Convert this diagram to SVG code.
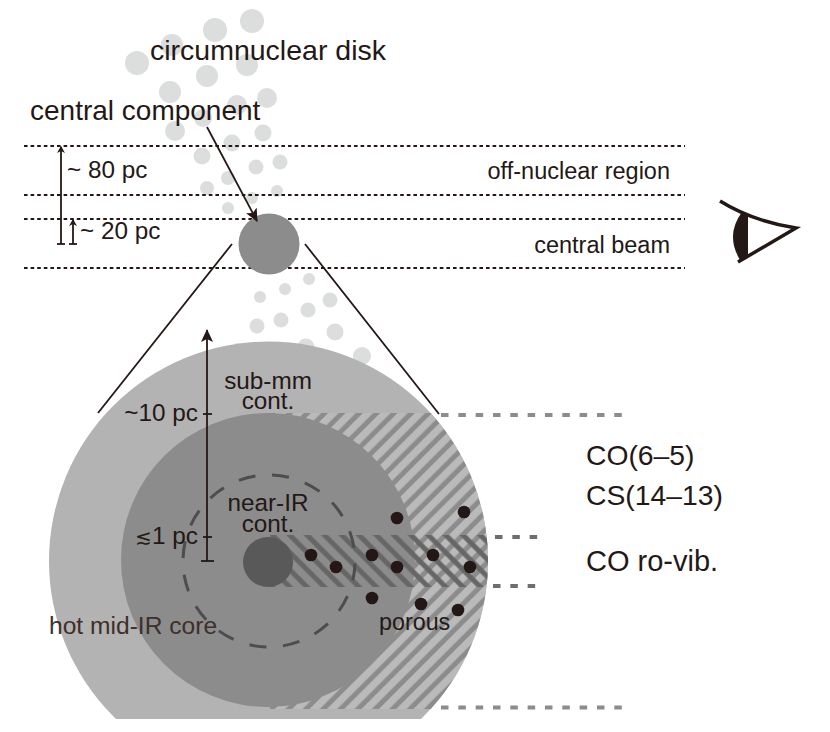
<svg xmlns="http://www.w3.org/2000/svg" width="830" height="732" viewBox="0 0 830 732">
<style>
text{font-family:"Liberation Sans",Arial,sans-serif;fill:#231815}
.s{font-size:24.3px}.o{font-size:23.5px}.m{font-size:28.3px}.c{text-anchor:middle}.e{text-anchor:end}
.blob{fill:#dcdddd}
.dot{fill:none;stroke:#231815;stroke-width:1.8;stroke-dasharray:3.6 3}
.ln{fill:none;stroke:#231815;stroke-width:1.8}
.gd{fill:none;stroke:#8c8c8c;stroke-width:4;stroke-dasharray:7.500 9.830}
.gb{fill:none;stroke:#6e6e6e;stroke-width:4;stroke-dasharray:7.500 9.830}
.p{fill:#231815}
</style>
<defs>
<pattern id="h1" width="12.254" height="12.254" patternUnits="userSpaceOnUse" patternTransform="rotate(45)"><rect width="12.254" height="12.254" fill="#bababa"/><rect x="4.47" width="5" height="12.254" fill="#8c8c8c"/></pattern>
<pattern id="h2" width="12.254" height="12.254" patternUnits="userSpaceOnUse" patternTransform="rotate(-45)"><rect x="7.86" width="4.394" height="12.254" fill="#666"/><rect x="0" width="0.606" height="12.254" fill="#666"/></pattern>
<clipPath id="outer"><circle cx="268.500" cy="561" r="219.500"/></clipPath>
<clipPath id="page"><rect x="0" y="0" width="830" height="719"/></clipPath>
<marker id="a" markerWidth="7" markerHeight="8" refX="6" refY="4" orient="auto" markerUnits="userSpaceOnUse"><path d="M0 0L7 4L0 8L2 4Z" class="p"/></marker>
<marker id="b" markerWidth="14" markerHeight="12" refX="12" refY="6" orient="auto" markerUnits="userSpaceOnUse"><path d="M0 0L13 6L0 12L3 6Z" class="p"/></marker>
</defs>
<g id="clumps">
<circle class="blob" cx="252" cy="21" r="12"/><circle class="blob" cx="215" cy="30" r="12"/><circle class="blob" cx="172" cy="45" r="11"/><circle class="blob" cx="137" cy="63" r="12"/><circle class="blob" cx="247" cy="65" r="11"/><circle class="blob" cx="207" cy="76" r="11"/><circle class="blob" cx="170" cy="92" r="11"/><circle class="blob" cx="267" cy="98" r="10"/><circle class="blob" cx="237" cy="105" r="10"/><circle class="blob" cx="203" cy="118" r="9"/><circle class="blob" cx="175" cy="131" r="10"/><circle class="blob" cx="263" cy="133" r="8.500"/><circle class="blob" cx="232" cy="143" r="8.500"/><circle class="blob" cx="202" cy="156" r="8.500"/><circle class="blob" cx="280" cy="162" r="7.500"/><circle class="blob" cx="256" cy="167" r="7.500"/><circle class="blob" cx="228" cy="178" r="7"/><circle class="blob" cx="207" cy="188" r="7"/><circle class="blob" cx="277" cy="191" r="6"/><circle class="blob" cx="252" cy="198" r="6"/><circle class="blob" cx="228" cy="208" r="6"/>
<circle class="blob" cx="309" cy="279" r="6"/><circle class="blob" cx="285" cy="289" r="6"/><circle class="blob" cx="260" cy="297" r="6"/><circle class="blob" cx="330" cy="300" r="7.500"/><circle class="blob" cx="308" cy="310" r="7.500"/><circle class="blob" cx="281" cy="320" r="7.500"/><circle class="blob" cx="257" cy="326" r="7.500"/><circle class="blob" cx="335" cy="332" r="8.500"/><circle class="blob" cx="306" cy="347" r="8.500"/><circle class="blob" cx="362" cy="356" r="9"/>
</g>
<g id="beam-lines">
<line class="dot" x1="24" y1="146" x2="685" y2="146"/><line class="dot" x1="24" y1="195" x2="685" y2="195"/><line class="dot" x1="24" y1="219" x2="685" y2="219"/><line class="dot" x1="24" y1="268" x2="685" y2="268"/>
</g>
<g id="central-component"><circle cx="269" cy="244" r="30.500" fill="#8c8c8c"/></g>
<g id="torus" clip-path="url(#page)">
<circle id="outer-disk" cx="268.500" cy="561" r="219.500" fill="#b3b3b3"/>
<rect id="hatch-outer" x="270" y="413" width="225" height="296" fill="url(#h1)" clip-path="url(#outer)"/>
<circle id="mid-disk" cx="268" cy="560" r="147" fill="#8c8c8c"/>
<rect id="hatch-band" x="270" y="535" width="225" height="52" fill="url(#h2)" clip-path="url(#outer)"/>
<circle id="core" cx="268" cy="562" r="25" fill="#595959"/>
<circle id="near-ir" cx="269" cy="561" r="86" fill="none" stroke="#4d4d4d" stroke-width="3" stroke-dasharray="17 16.770" stroke-dashoffset="-2.500"/>
</g>
<g id="porous-dots" class="p">
<circle cx="397" cy="518" r="6.300"/><circle cx="464" cy="512" r="6.300"/><circle cx="311" cy="555" r="6.300"/><circle cx="336" cy="567" r="6.300"/><circle cx="372" cy="555" r="6.300"/><circle cx="397" cy="567" r="6.300"/><circle cx="433" cy="555" r="6.300"/><circle cx="470" cy="567" r="6.300"/><circle cx="372" cy="598" r="6.300"/><circle cx="421" cy="604" r="6.300"/><circle cx="458" cy="610" r="6.300"/>
</g>
<g id="connectors">
<line class="ln" x1="207" y1="127" x2="257" y2="221" marker-end="url(#b)"/>
<line class="ln" x1="232" y1="244" x2="98" y2="413"/>
<line class="ln" x1="305" y1="244" x2="439" y2="414"/>
<line class="ln" x1="61" y1="244" x2="61" y2="147" marker-end="url(#a)"/>
<line class="ln" x1="57" y1="244" x2="65" y2="244"/>
<line class="ln" x1="73" y1="244" x2="73" y2="220" marker-end="url(#a)"/>
<line class="ln" x1="69" y1="244" x2="77" y2="244"/>
<line class="ln" x1="207" y1="561" x2="207" y2="330" marker-end="url(#b)"/>
<line class="ln" x1="201" y1="561" x2="214" y2="561"/><line class="ln" x1="203" y1="414" x2="212" y2="414"/><line class="ln" x1="203" y1="537" x2="212" y2="537"/>
<line class="gd" x1="441" y1="415" x2="622" y2="415"/><line class="gb" x1="495" y1="537" x2="538" y2="537"/><line class="gb" x1="493" y1="586" x2="538" y2="586"/><line class="gd" x1="441" y1="707.500" x2="622" y2="707.500"/>
</g>
<g id="eye">
<path d="M720 201Q752 221 796 228L738 262" fill="none" stroke="#231815" stroke-width="3.500"/>
<path d="M742 212L748 216V257L740 260Q725 235 742 212Z" class="p"/>
</g>
<g id="labels">
<text x="150" y="60" style="font-size:28.5px">circumnuclear disk</text>
<text x="30" y="120" style="font-size:28px">central component</text>
<text class="s" x="67" y="178">~ 80 pc</text>
<text class="s" x="80" y="239">~ 20 pc</text>
<text class="o e" x="670" y="179">off-nuclear region</text>
<text class="o e" x="670" y="253">central beam</text>
<text class="s c" x="268" y="389">sub-mm</text><text class="s c" x="268" y="409">cont.</text>
<text class="s e" x="198" y="421">~10 pc</text>
<text class="s c" x="268" y="511">near-IR</text><text class="s c" x="268" y="532">cont.</text>
<text class="s e" x="198" y="544"><tspan style="font-size:20px">≲</tspan>1 pc</text>
<text x="49" y="634" style="fill:#3e2f2b;font-size:24.6px">hot mid-IR core</text>
<text x="379" y="630" style="font-size:23.300px">porous</text>
<text class="m" x="586" y="465">CO(6–5)</text><text class="m" x="586" y="505">CS(14–13)</text><text class="m" x="586" y="571" style="font-size:29px">CO ro-vib.</text>
</g>
</svg>
